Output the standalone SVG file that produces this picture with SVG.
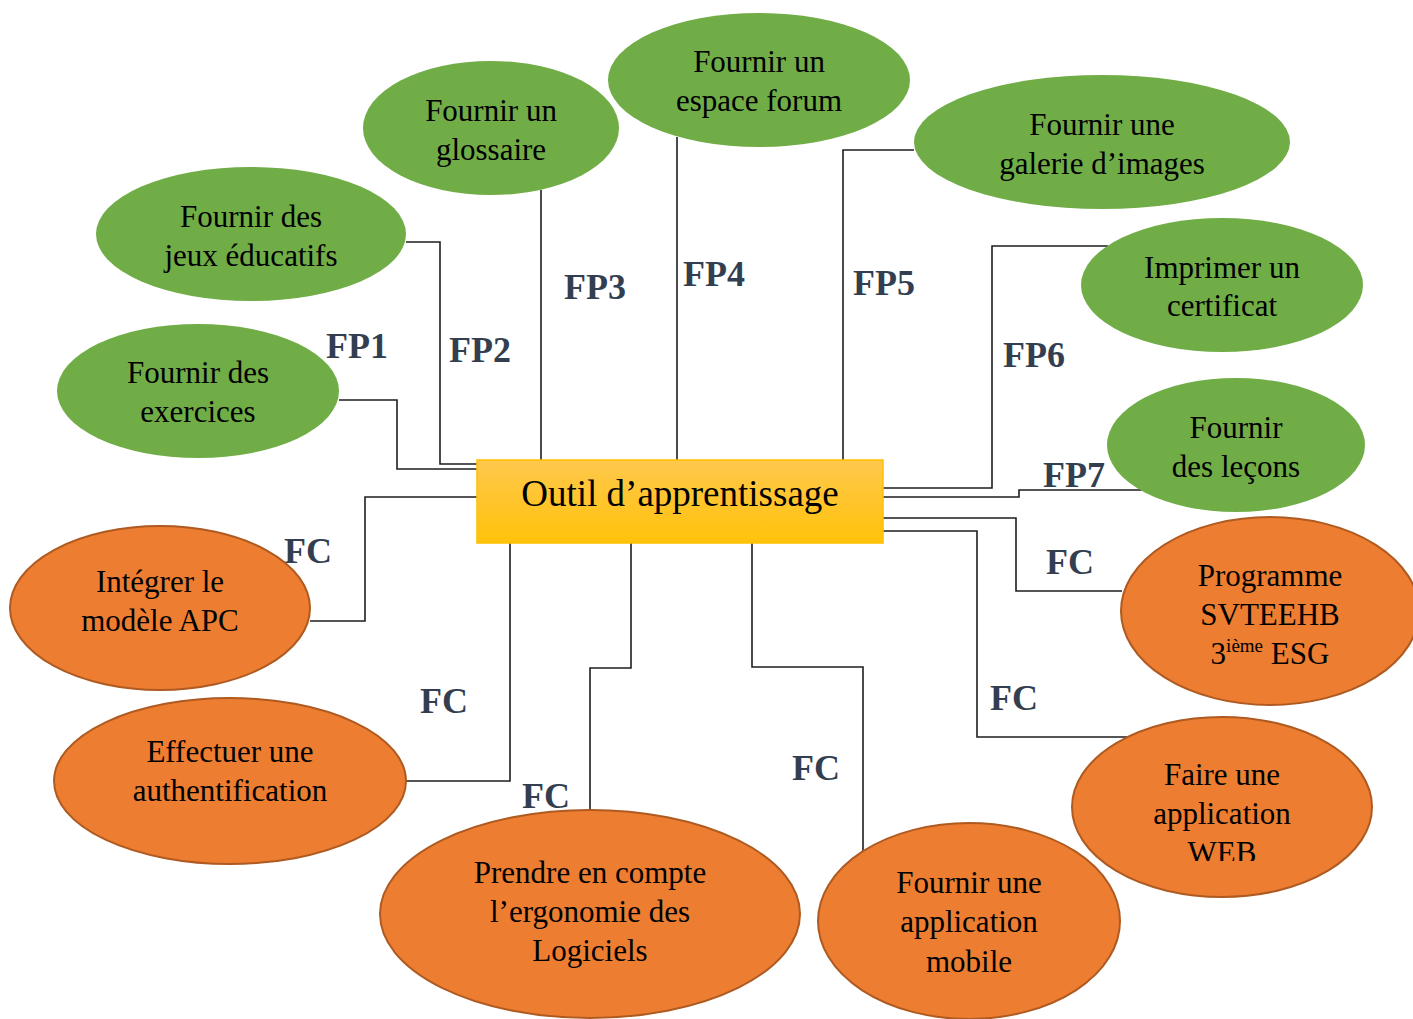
<svg xmlns="http://www.w3.org/2000/svg" width="1413" height="1019" viewBox="0 0 1413 1019">
  <defs>
    <linearGradient id="boxFill" x1="0" y1="0" x2="0" y2="1">
      <stop offset="0" stop-color="#FFC84D"/>
      <stop offset="1" stop-color="#FFC20A"/>
    </linearGradient>
    <clipPath id="webClip">
      <rect x="1060" y="700" width="340" height="161"/>
    </clipPath>
    <style>
      .wire { fill: none; stroke: #1e1e1e; stroke-width: 1.6; }
      .lbl { font-family: "Liberation Serif", "Times New Roman", serif; font-weight: bold; font-size: 36px; fill: #333F50; }
      .fp { fill: #70AD47; }
      .fc { fill: #ED7D31; stroke: #AE5A21; stroke-width: 2; }
      .txt { font-family: "Liberation Serif", "Times New Roman", serif; font-size: 31px; fill: #000; text-anchor: middle; }
    </style>
  </defs>
  <rect width="1413" height="1019" fill="#fff"/>

  <!-- connectors and their labels -->
  <g id="connectors">
    <polyline class="wire" points="339,400 397,400 397,469 477,469"/>
    <polyline class="wire" points="406,242 440,242 440,464 477,464"/>
    <polyline class="wire" points="541,190 541,460"/>
    <polyline class="wire" points="677,137 677,460"/>
    <polyline class="wire" points="914,150 843,150 843,460"/>
    <polyline class="wire" points="1108,246 992,246 992,488 883,488"/>
    <polyline class="wire" points="883,497 1019,497 1019,490 1145,490"/>
    <polyline class="wire" points="883,518 1016,518 1016,591 1122,591"/>
    <polyline class="wire" points="883,531 977,531 977,737 1128,737"/>
    <polyline class="wire" points="752,543 752,667 863,667 863,852"/>
    <polyline class="wire" points="631,543 631,668 590,668 590,812"/>
    <polyline class="wire" points="510,543 510,781 406,781"/>
    <polyline class="wire" points="477,497 365,497 365,621 310,621"/>

    <text class="lbl" x="326" y="358">FP1</text>
    <text class="lbl" x="449" y="362">FP2</text>
    <text class="lbl" x="564" y="299">FP3</text>
    <text class="lbl" x="683" y="286">FP4</text>
    <text class="lbl" x="853" y="295">FP5</text>
    <text class="lbl" x="1003" y="367">FP6</text>
    <text class="lbl" x="1043" y="487">FP7</text>
    <text class="lbl" x="284" y="563">FC</text>
    <text class="lbl" x="420" y="713">FC</text>
    <text class="lbl" x="522" y="808">FC</text>
    <text class="lbl" x="792" y="780">FC</text>
    <text class="lbl" x="1046" y="574">FC</text>
    <text class="lbl" x="990" y="710">FC</text>
  </g>

  <!-- central node -->
  <g id="outil">
    <rect x="477" y="460" width="406" height="83" fill="url(#boxFill)" stroke="#FFC000" stroke-width="1.5"/>
    <text x="680" y="506" font-family="'Liberation Serif', 'Times New Roman', serif" font-size="37" text-anchor="middle" fill="#000">Outil d’apprentissage</text>
  </g>

  <!-- principal functions -->
  <g id="exercices">
    <ellipse class="fp" cx="198" cy="391" rx="141" ry="67"/>
    <text class="txt" x="198" y="383">Fournir des</text>
    <text class="txt" x="198" y="422">exercices</text>
  </g>
  <g id="jeux">
    <ellipse class="fp" cx="251" cy="234" rx="155" ry="67"/>
    <text class="txt" x="251" y="227">Fournir des</text>
    <text class="txt" x="251" y="266">jeux éducatifs</text>
  </g>
  <g id="glossaire">
    <ellipse class="fp" cx="491" cy="128" rx="128" ry="67"/>
    <text class="txt" x="491" y="121">Fournir un</text>
    <text class="txt" x="491" y="160">glossaire</text>
  </g>
  <g id="forum">
    <ellipse class="fp" cx="759" cy="80" rx="151" ry="67"/>
    <text class="txt" x="759" y="72">Fournir un</text>
    <text class="txt" x="759" y="111">espace forum</text>
  </g>
  <g id="galerie">
    <ellipse class="fp" cx="1102" cy="142" rx="188" ry="67"/>
    <text class="txt" x="1102" y="135">Fournir une</text>
    <text class="txt" x="1102" y="174">galerie d’images</text>
  </g>
  <g id="certificat">
    <ellipse class="fp" cx="1222" cy="285" rx="141" ry="67"/>
    <text class="txt" x="1222" y="278">Imprimer un</text>
    <text class="txt" x="1222" y="316">certificat</text>
  </g>
  <g id="lecons">
    <ellipse class="fp" cx="1236" cy="445" rx="129" ry="67"/>
    <text class="txt" x="1236" y="438">Fournir</text>
    <text class="txt" x="1236" y="477">des leçons</text>
  </g>

  <!-- constraint functions -->
  <g id="apc">
    <ellipse class="fc" cx="160" cy="608" rx="150" ry="82"/>
    <text class="txt" x="160" y="592">Intégrer le</text>
    <text class="txt" x="160" y="631">modèle APC</text>
  </g>
  <g id="authentification">
    <ellipse class="fc" cx="230" cy="781" rx="176" ry="83"/>
    <text class="txt" x="230" y="762">Effectuer une</text>
    <text class="txt" x="230" y="801">authentification</text>
  </g>
  <g id="ergonomie">
    <ellipse class="fc" cx="590" cy="914" rx="210" ry="104"/>
    <text class="txt" x="590" y="883">Prendre en compte</text>
    <text class="txt" x="590" y="922">l’ergonomie des</text>
    <text class="txt" x="590" y="961">Logiciels</text>
  </g>
  <g id="mobile">
    <ellipse class="fc" cx="969" cy="921" rx="151" ry="98"/>
    <text class="txt" x="969" y="893">Fournir une</text>
    <text class="txt" x="969" y="932">application</text>
    <text class="txt" x="969" y="972">mobile</text>
  </g>
  <g id="web">
    <ellipse class="fc" cx="1222" cy="807" rx="150" ry="90"/>
    <text class="txt" x="1222" y="785">Faire une</text>
    <text class="txt" x="1222" y="824">application</text>
    <text class="txt" x="1222" y="863" clip-path="url(#webClip)">WEB</text>
  </g>
  <g id="programme">
    <ellipse class="fc" cx="1270" cy="611" rx="149" ry="94"/>
    <text class="txt" x="1270" y="586">Programme</text>
    <text class="txt" x="1270" y="625">SVTEEHB</text>
    <text class="txt" x="1270" y="664">3<tspan font-size="19" dy="-12">ième</tspan><tspan dy="12"> ESG</tspan></text>
  </g>
</svg>
